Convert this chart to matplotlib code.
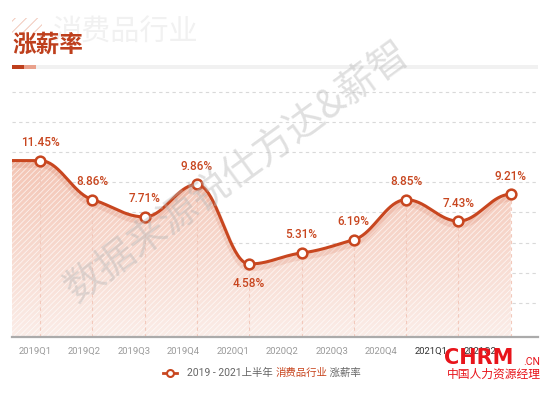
import numpy as np
import matplotlib
matplotlib.use('Agg')
import matplotlib.pyplot as plt
from matplotlib.patches import Polygon, Rectangle

plt.rcParams['font.family'] = ['Roboto', 'Noto Sans CJK SC', 'DejaVu Sans']

quarters = ['2019Q1', '2019Q2', '2019Q3', '2019Q4', '2020Q1',
            '2020Q2', '2020Q3', '2020Q4', '2021Q1', '2021Q2']
raise_pct = [11.45, 8.86, 7.71, 9.86, 4.58, 5.31, 6.19, 8.85, 7.43, 9.21]
labels = ['11.45%', '8.86%', '7.71%', '9.86%', '4.58%',
          '5.31%', '6.19%', '8.85%', '7.43%', '9.21%']

W, H = 554, 393
red = '#C8461F'
title_red = '#BE3F1C'
pink = '#F2C9BC'

fig = plt.figure(figsize=(W / 100, H / 100), dpi=100)
fig.patch.set_facecolor('white')


def px(x, y):
    return x / W, 1 - y / H


ax = fig.add_axes([12 / W, (H - 337) / H, (538 - 12) / W, (337 - 91) / H])
x = np.arange(len(raise_pct))
y = np.array(raise_pct)
x0, x1 = -0.535, 9.52
y0, y1 = -0.27, 16.07
ax.set_xlim(x0, x1)
ax.set_ylim(y0, y1)

# smooth curve through the points (cubic bezier, flat at extremes)
m = np.zeros(len(y))
for i in range(1, len(y) - 1):
    if (y[i] - y[i - 1]) * (y[i + 1] - y[i]) > 0:
        m[i] = (y[i + 1] - y[i - 1]) / 2 * 0.55
cx, cy = [x0], [y[0]]
t = np.linspace(0, 1, 40)
for i in range(len(y) - 1):
    p0 = np.array([x[i], y[i]])
    p3 = np.array([x[i + 1], y[i + 1]])
    p1 = p0 + np.array([0.38, m[i] * 0.38])
    p2 = p3 - np.array([0.38, m[i + 1] * 0.38])
    seg = ((1 - t) ** 3)[:, None] * p0 + (3 * (1 - t) ** 2 * t)[:, None] * p1 \
        + (3 * (1 - t) * t ** 2)[:, None] * p2 + (t ** 3)[:, None] * p3
    cx.extend(seg[:, 0])
    cy.extend(seg[:, 1])
cx, cy = np.array(cx), np.array(cy)

# area fill: gradient + diagonal stripes
verts = np.vstack([np.column_stack([cx, cy]), [[cx[-1], y0], [x0, y0]]])
clip = Polygon(verts, closed=True, facecolor='none', edgecolor='none')
ax.add_patch(clip)
grad = np.linspace(0, 1, 256).reshape(-1, 1)
cmap = matplotlib.colors.LinearSegmentedColormap.from_list(
    'fade', ['#FBEDE8', '#F3C3B2'])
im = ax.imshow(grad, extent=[x0, x1, y0, 12], origin='lower', cmap=cmap,
               aspect='auto', zorder=1)
im.set_clip_path(clip)
plt.rcParams['hatch.linewidth'] = 0.6
ax.add_patch(Polygon(verts, closed=True, facecolor='none',
                     edgecolor='#FFFFFF', hatch='//////', lw=0, alpha=0.7, zorder=2))

ax.vlines(x, y0, y, colors=pink, linestyles=(0, (3, 3)), lw=0.8, zorder=2)
ax.plot(cx, cy - 0.25, color=red, lw=5, alpha=0.12, zorder=3, solid_capstyle='round')
ax.plot(cx, cy, color=red, lw=2.2, zorder=4)
ax.plot(x, y, 'o', ms=7, mfc='white', mec=red, mew=1.8, zorder=5)

for xi, yi, lab in zip(x, y, labels):
    off = -20 if yi < 5 else 18
    ax.annotate(lab, (xi, yi), xytext=(0, off * 0.72), textcoords='offset points',
                ha='center', va='center', fontsize=8.5, color=red,
                fontweight='medium', zorder=6)

ax.set_yticks(np.arange(2, 17, 2))
ax.yaxis.grid(True, color='#D9D9D9', linestyle=(0, (3, 3)), lw=0.8)
ax.set_axisbelow(True)
ax.tick_params(axis='y', left=False, labelleft=False)
tick_pos = x * 0.946 - 0.096
ax.set_xticks(tick_pos)
ax.set_xticklabels(quarters, fontsize=6.8)
ax.tick_params(axis='x', length=0, pad=7)
for i, tl in enumerate(ax.get_xticklabels()):
    tl.set_color('#333333' if i >= 8 else '#9A9A9A')
for s in ['top', 'left', 'right']:
    ax.spines[s].set_visible(False)
ax.spines['bottom'].set_color('#ABABAB')
ax.spines['bottom'].set_linewidth(1.6)
ax.patch.set_alpha(0)

# header
fig.add_artist(Rectangle(px(12, 33), 30 / W, 15 / H, facecolor='none', edgecolor='#F0C0B0',
                         hatch='///', lw=0, transform=fig.transFigure, zorder=0))
fig.text(*px(53, 33), '消费品行业', fontsize=21, color='#F1F1F1',
         ha='left', va='center', family=['Noto Sans CJK SC'], zorder=0)
fig.text(*px(12, 45), '涨薪率', fontsize=17, color=title_red, fontweight='bold',
         ha='left', va='center', family=['Noto Sans CJK SC'])
fig.add_artist(Rectangle(px(12, 69), 526 / W, 4 / H, color='#F1F1F1',
                         transform=fig.transFigure, lw=0))
fig.add_artist(Rectangle(px(12, 69), 12 / W, 4 / H, color=title_red,
                         transform=fig.transFigure, lw=0))
fig.add_artist(Rectangle(px(24, 69), 12 / W, 4 / H, color='#E9A18C',
                         transform=fig.transFigure, lw=0))

# watermark
fig.text(*px(238, 172), '数据来源锐仕方达&薪智', fontsize=28, color='#B5B5B5', alpha=0.42,
         rotation=36, ha='center', va='center', family=['Noto Sans CJK SC'], zorder=10)

# legend
fig.add_artist(plt.Line2D([163 / W, 177 / W], [1 - 373 / H] * 2, color=red, lw=2,
                          transform=fig.transFigure))
fig.add_artist(plt.Line2D([170 / W], [1 - 373 / H], marker='o', ms=5, mfc='white',
                          mec=red, mew=1.5, transform=fig.transFigure))
t1 = fig.text(*px(187, 373), '2019 - 2021上半年 ', fontsize=7.5, color='#666666',
              va='center', ha='left')
fig.canvas.draw()
bb = t1.get_window_extent()
t2 = fig.text(bb.x1 / W, 1 - 373 / H, '消费品行业', fontsize=7.5, color=red,
              va='center', ha='left')
bb2 = t2.get_window_extent(renderer=fig.canvas.get_renderer())
fig.text(bb2.x1 / W, 1 - 373 / H, ' 涨薪率', fontsize=7.5, color='#666666',
         va='center', ha='left')

# logo
fig.text(*px(444, 358), 'CHRM', fontsize=15, color='#E8141B', fontweight='black',
         ha='left', va='center', family=['DejaVu Sans'])
fig.text(*px(523, 362), '.CN', fontsize=7.5, color='#E8141B', ha='left', va='center')
fig.text(*px(494, 374), '中国人力资源经理', fontsize=8.5, color='#E8141B',
         ha='center', va='center', family=['Noto Sans CJK SC'])

fig.savefig('out.png', dpi=100)
